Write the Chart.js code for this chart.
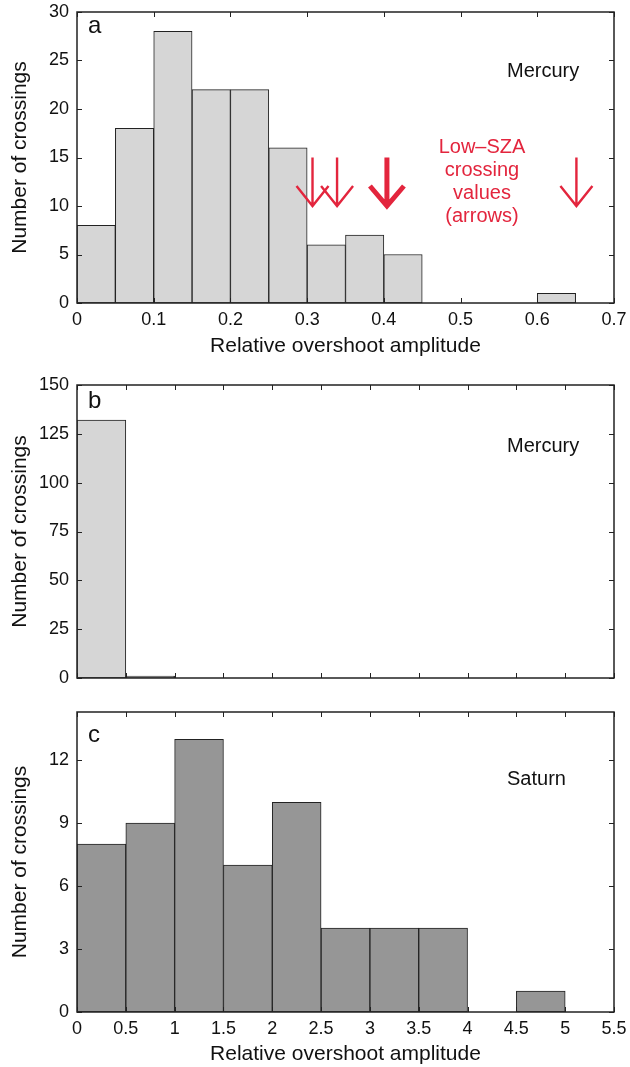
<!DOCTYPE html>
<html>
<head>
<meta charset="utf-8">
<script src="https://cdn.jsdelivr.net/npm/chart.js"></script>
<style>
  body { margin: 0; background: #fff; }
  canvas.panel { position: absolute; left: 0; }
</style>
</head>
<body>
<canvas id="chartA" class="panel" width="630" height="360" style="top:0"></canvas>
<canvas id="chartB" class="panel" width="630" height="330" style="top:360px"></canvas>
<canvas id="chartC" class="panel" width="630" height="377" style="top:690px"></canvas>

<script>
// =====================================================
// DATA
// =====================================================
// panel a: Mercury, bin width 0.05
const binCentersA = [0.025, 0.075, 0.125, 0.175, 0.225, 0.275, 0.325, 0.375, 0.425, 0.475, 0.525, 0.575, 0.625, 0.675];
const mercuryCountsA = [8, 18, 28, 22, 22, 16, 6, 7, 5, 0, 0, 0, 1, 0];

// panel b: Mercury, bin width 0.5
const binCentersB = [0.25, 0.75, 1.25, 1.75, 2.25, 2.75, 3.25, 3.75, 4.25, 4.75, 5.25];
const mercuryCountsB = [132, 1, 0, 0, 0, 0, 0, 0, 0, 0, 0];

// panel c: Saturn, bin width 0.5
const binCentersC = [0.25, 0.75, 1.25, 1.75, 2.25, 2.75, 3.25, 3.75, 4.25, 4.75, 5.25];
const saturnCounts = [8, 9, 13, 7, 10, 4, 4, 4, 0, 1, 0];

// low-SZA crossing values (red arrows in panel a)
const lowSzaValues = [0.307, 0.339, 0.404, 0.651];
const lowSzaBold = [false, false, true, false];
const arrowTop = 15;
const arrowTip = 10;

const xTitle = "Relative overshoot amplitude";
const yTitle = "Number of crossings";

// =====================================================
// COMMON STYLE
// =====================================================
Chart.defaults.font.family = '"Liberation Sans", Arial, sans-serif';
Chart.defaults.color = "#111";
Chart.defaults.animation = false;

const RED = "#e3253d";

// frame + inward ticks on all four sides
const frameTicks = {
    id: "frameTicks",
    afterDraw(chart) {
        const { ctx, chartArea: a, scales: { x, y } } = chart;
        const len = 5;
        ctx.save();
        ctx.strokeStyle = "#222";
        ctx.lineWidth = 1;
        ctx.beginPath();
        x.ticks.forEach(t => {
            const px = Math.round(x.getPixelForValue(t.value)) + 0.5;
            ctx.moveTo(px, a.bottom); ctx.lineTo(px, a.bottom - len);
            ctx.moveTo(px, a.top); ctx.lineTo(px, a.top + len);
        });
        y.ticks.forEach(t => {
            const py = Math.round(y.getPixelForValue(t.value)) + 0.5;
            ctx.moveTo(a.left, py); ctx.lineTo(a.left + len, py);
            ctx.moveTo(a.right, py); ctx.lineTo(a.right - len, py);
        });
        ctx.stroke();
        ctx.lineWidth = 1.5;
        ctx.strokeRect(a.left, a.top, a.width, a.height);
        ctx.restore();
    }
};

// panel letter and planet name
const panelText = {
    id: "panelText",
    afterDraw(chart, args, opts) {
        const { ctx, chartArea: a } = chart;
        ctx.save();
        ctx.fillStyle = "#111";
        ctx.textAlign = "left";
        ctx.textBaseline = "alphabetic";
        ctx.font = '24px "Liberation Sans", Arial, sans-serif';
        ctx.fillText(opts.letter, a.left + 11, a.top + opts.letterDy);
        ctx.font = '20px "Liberation Sans", Arial, sans-serif';
        ctx.fillText(opts.name, 507, a.top + opts.nameDy);
        ctx.restore();
    }
};

// red arrows + caption for panel a
const lowSzaArrows = {
    id: "lowSzaArrows",
    afterDatasetsDraw(chart) {
        const { ctx, scales: { x, y } } = chart;
        ctx.save();
        ctx.strokeStyle = RED;
        ctx.lineCap = "butt";
        ctx.lineJoin = "miter";
        lowSzaValues.forEach((v, i) => {
            const px = x.getPixelForValue(v);
            const top = y.getPixelForValue(arrowTop);
            const tip = y.getPixelForValue(arrowTip);
            const bold = lowSzaBold[i];
            ctx.lineWidth = bold ? 5 : 2.4;
            const w = bold ? 17 : 16;
            ctx.beginPath();
            ctx.moveTo(px, top);
            ctx.lineTo(px, tip - (bold ? 4 : 1));
            ctx.moveTo(px - w, tip - 20);
            ctx.lineTo(px, tip);
            ctx.lineTo(px + w, tip - 20);
            ctx.stroke();
        });
        ctx.fillStyle = RED;
        ctx.textAlign = "center";
        ctx.textBaseline = "middle";
        ctx.font = '20px "Liberation Sans", Arial, sans-serif';
        ["Low\u2013SZA", "crossing", "values", "(arrows)"].forEach((s, i) => {
            ctx.fillText(s, 482, 147 + i * 23);
        });
        ctx.restore();
    }
};

function fmt(v) {
    return String(Math.round(v * 100) / 100);
}

function makeHist(canvasId, cfg) {
    const pts = cfg.centers.map((c, i) => ({ x: c, y: cfg.counts[i] }));
    return new Chart(document.getElementById(canvasId), {
        type: "bar",
        data: {
            datasets: [{
                data: pts,
                backgroundColor: cfg.fill,
                borderColor: "#222",
                borderWidth: 1,
                borderSkipped: false,
                barPercentage: 1,
                categoryPercentage: 1
            }]
        },
        options: {
            responsive: false,
            maintainAspectRatio: false,
            layout: { padding: { top: cfg.padTop, right: 16, left: 0, bottom: 0 } },
            plugins: {
                legend: { display: false },
                tooltip: { enabled: false },
                panelText: cfg.text
            },
            scales: {
                x: {
                    type: "linear",
                    offset: false,
                    min: 0,
                    max: cfg.xMax,
                    grid: { display: false, drawTicks: false, offset: false },
                    border: { display: false },
                    ticks: {
                        stepSize: cfg.xStep,
                        padding: 6,
                        maxRotation: 0,
                        autoSkip: false,
                        font: { size: 18 },
                        callback: cfg.showX ? fmt : () => ""
                    },
                    title: {
                        display: cfg.showX,
                        text: xTitle,
                        font: { size: 21 },
                        padding: { top: 0, bottom: cfg.xTitlePad }
                    },
                    afterFit: s => {
                        s.height = cfg.xHeight;
                        s.paddingLeft = 0;
                        s.paddingRight = 0;
                    }
                },
                y: {
                    min: 0,
                    max: cfg.yMax,
                    grid: { display: false, drawTicks: false },
                    border: { display: false },
                    ticks: {
                        stepSize: cfg.yStep,
                        includeBounds: false,
                        padding: 8,
                        font: { size: 18 },
                        callback: fmt
                    },
                    title: {
                        display: true,
                        text: yTitle,
                        font: { size: 21 },
                        padding: { top: 8, bottom: 0 }
                    },
                    afterFit: s => {
                        s.width = 77;
                        s.paddingTop = 0;
                        s.paddingBottom = 0;
                    }
                }
            }
        },
        plugins: cfg.extra ? [frameTicks, panelText, cfg.extra] : [frameTicks, panelText]
    });
}

document.addEventListener("DOMContentLoaded", function () {
    makeHist("chartA", {
        centers: binCentersA, counts: mercuryCountsA, fill: "#d6d6d6",
        xMax: 0.7, xStep: 0.1, yMax: 30, yStep: 5,
        padTop: 12, xHeight: 57, xTitlePad: 1, showX: true,
        text: { letter: "a", letterDy: 21, name: "Mercury", nameDy: 65 },
        extra: lowSzaArrows
    });
    makeHist("chartB", {
        centers: binCentersB, counts: mercuryCountsB, fill: "#d6d6d6",
        xMax: 5.5, xStep: 0.5, yMax: 150, yStep: 25,
        padTop: 25, xHeight: 12, xTitlePad: 0, showX: false,
        text: { letter: "b", letterDy: 23, name: "Mercury", nameDy: 67 }
    });
    makeHist("chartC", {
        centers: binCentersC, counts: saturnCounts, fill: "#969696",
        xMax: 5.5, xStep: 0.5, yMax: 14.3, yStep: 3,
        padTop: 22, xHeight: 55, xTitlePad: 0, showX: true,
        text: { letter: "c", letterDy: 30, name: "Saturn", nameDy: 73 }
    });
});
</script>
</body>
</html>
